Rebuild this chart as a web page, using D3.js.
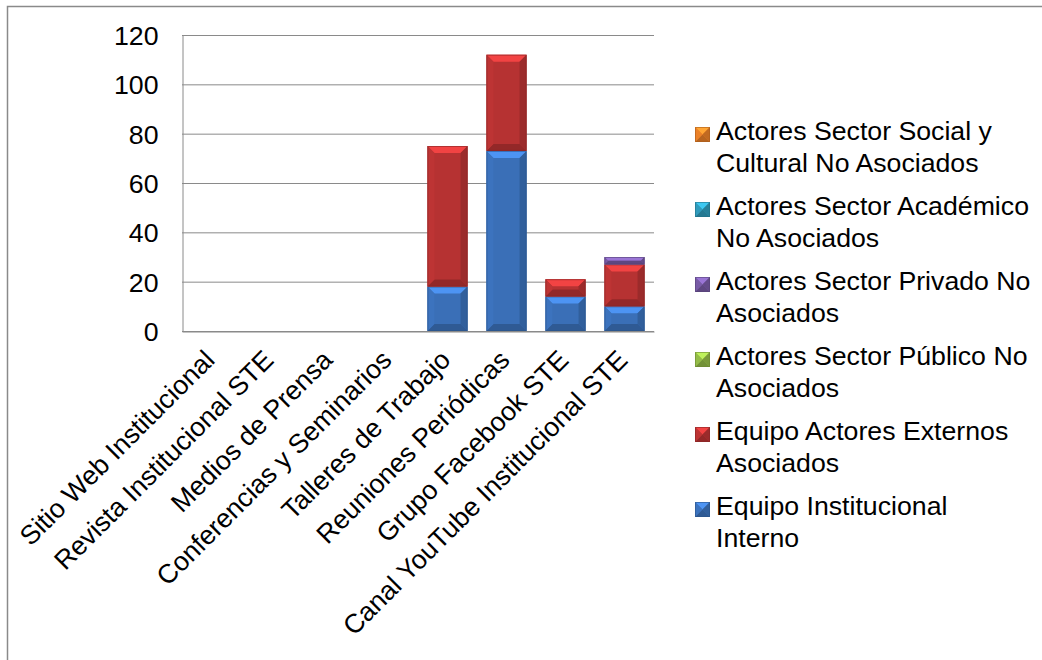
<!DOCTYPE html>
<html>
<head>
<meta charset="utf-8">
<script src="https://cdn.jsdelivr.net/npm/d3@7"></script>
<style>
  body { margin: 0; background: #fff; }
  text { font-family: "Liberation Sans", Arial, sans-serif; fill: #000; }
</style>
</head>
<body>
<script>
var categories = ["Sitio Web Institucional", "Revista Institucional STE", "Medios de Prensa",
  "Conferencias y Seminarios", "Talleres de Trabajo", "Reuniones Periódicas",
  "Grupo Facebook STE", "Canal YouTube Institucional STE"];

// series, bottom of the stack first
var seriesNames = ["Equipo Institucional Interno", "Equipo Actores Externos Asociados",
  "Actores Sector Público No Asociados", "Actores Sector Privado No Asociados",
  "Actores Sector Académico No Asociados", "Actores Sector Social y Cultural No Asociados"];
var interno   = [0, 0, 0, 0, 18, 73, 14, 10];
var externos  = [0, 0, 0, 0, 57, 39, 7, 17];
var publico   = [0, 0, 0, 0, 0, 0, 0, 0];
var privado   = [0, 0, 0, 0, 0, 0, 0, 3];
var academico = [0, 0, 0, 0, 0, 0, 0, 0];
var social    = [0, 0, 0, 0, 0, 0, 0, 0];
var seriesValues = [interno, externos, publico, privado, academico, social];

var yTicks = [0, 20, 40, 60, 80, 100, 120];

// legend lines as they wrap in the original, top entry first
var legendLines = [
  ["Actores Sector Social y", "Cultural No Asociados"],
  ["Actores Sector Académico", "No Asociados"],
  ["Actores Sector Privado No", "Asociados"],
  ["Actores Sector Público No", "Asociados"],
  ["Equipo Actores Externos", "Asociados"],
  ["Equipo Institucional", "Interno"]
];

var colors = ["#3a6fb7", "#b63232", "#8fb545", "#7458a0", "#2e96b5", "#e37c27"];

var width = 1042, height = 660;
var plot = {left: 182, right: 654, top: 35, bottom: 331};
var fontSize = "26.7px";

var svg = d3.select("body").append("svg")
  .attr("width", width)
  .attr("height", height);

// chart frame (only top and left edges show in the picture)
svg.append("rect")
  .attr("x", 7.5).attr("y", 6.5)
  .attr("width", 1100).attr("height", 700)
  .attr("fill", "none")
  .attr("stroke", "#8a8a8a")
  .attr("stroke-width", 1.5);

var x = d3.scaleBand()
  .domain(categories)
  .range([plot.left, plot.right])
  .paddingInner(0.32)
  .paddingOuter(0.16);

var y = d3.scaleLinear()
  .domain([0, 120])
  .range([plot.bottom, plot.top]);

// gridlines
svg.append("g")
  .selectAll("line")
  .data(yTicks)
  .enter().append("line")
    .attr("x1", plot.left).attr("x2", plot.right)
    .attr("y1", function(d) { return y(d) + 0.5; })
    .attr("y2", function(d) { return y(d) + 0.5; })
    .attr("stroke", "#8a8a8a")
    .attr("stroke-width", 1);

// y axis
var yAxis = d3.axisLeft(y).tickValues(yTicks).tickSize(0).tickPadding(24);
var gy = svg.append("g")
  .attr("transform", "translate(" + (plot.left + 0.5) + ",0)")
  .call(yAxis);
gy.select(".domain").attr("stroke", "#8a8a8a");
gy.selectAll("text")
  .style("font-size", fontSize)
  .attr("dy", "0.36em");

// x axis
var xAxis = d3.axisBottom(x).tickSize(0).tickFormat("");
var gx = svg.append("g")
  .attr("transform", "translate(0," + (plot.bottom + 0.5) + ")")
  .call(xAxis);
gx.select(".domain").attr("stroke", "#8a8a8a");

svg.append("g")
  .selectAll("text")
  .data(categories)
  .enter().append("text")
    .attr("transform", function(d) {
      return "translate(" + (x(d) + x.bandwidth() / 2 - 9) + "," + (plot.bottom + 17) + ") rotate(-45)";
    })
    .attr("text-anchor", "end")
    .attr("dy", "0.72em")
    .style("font-size", fontSize)
    .text(function(d) { return d; });

// stacked data
var table = categories.map(function(c, i) {
  var row = {cat: c};
  seriesNames.forEach(function(s, j) { row[s] = seriesValues[j][i]; });
  return row;
});
var stacked = d3.stack().keys(seriesNames)(table);

function bevel(g, x0, x1, y0, y1, col) {
  var b = Math.min(7, (y1 - y0) / 2, (x1 - x0) / 2);
  var c = d3.color(col);
  g.append("rect")
    .attr("x", x0).attr("y", y0)
    .attr("width", x1 - x0).attr("height", y1 - y0)
    .attr("fill", col);
  var faces = [
    {pts: [[x0, y0], [x1, y0], [x1 - b, y0 + b], [x0 + b, y0 + b]], fill: c.brighter(0.8)},
    {pts: [[x0, y1], [x1, y1], [x1 - b, y1 - b], [x0 + b, y1 - b]], fill: c.darker(0.6)},
    {pts: [[x0, y0], [x0 + b, y0 + b], [x0 + b, y1 - b], [x0, y1]], fill: c.brighter(0.1)},
    {pts: [[x1, y0], [x1 - b, y0 + b], [x1 - b, y1 - b], [x1, y1]], fill: c.darker(0.45)}
  ];
  faces.forEach(function(f) {
    g.append("polygon")
      .attr("points", f.pts.map(function(p) { return p.join(","); }).join(" "))
      .attr("fill", f.fill);
  });
  g.append("rect")
    .attr("x", x0 + 0.5).attr("y", y0 + 0.5)
    .attr("width", x1 - x0 - 1).attr("height", Math.max(0, y1 - y0 - 1))
    .attr("fill", "none")
    .attr("stroke", c.darker(0.8))
    .attr("stroke-opacity", 0.6);
}

var bars = svg.append("g");
stacked.forEach(function(layer, j) {
  layer.forEach(function(seg, i) {
    if (seg[1] - seg[0] <= 0) return;
    var x0 = x(categories[i]);
    bevel(bars, x0, x0 + x.bandwidth(), y(seg[1]), y(seg[0]), colors[j]);
  });
});

// legend, top entry is the last series
var legend = svg.append("g");
legendLines.forEach(function(lines, k) {
  var j = seriesNames.length - 1 - k;
  var base = 140 + k * 75;
  var lg = legend.append("g");
  bevel(lg, 695, 710, base - 13, base + 2, colors[j]);
  lines.forEach(function(t, n) {
    lg.append("text")
      .attr("x", 716)
      .attr("y", base + n * 31.5)
      .style("font-size", fontSize)
      .text(t);
  });
});
</script>
</body>
</html>
